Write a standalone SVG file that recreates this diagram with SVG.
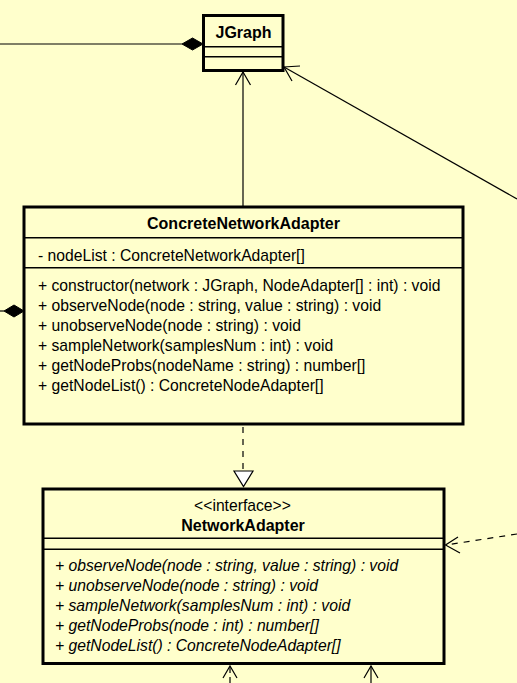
<svg xmlns="http://www.w3.org/2000/svg" width="517" height="683" viewBox="0 0 517 683">
<style>
.bg{fill:#FFFFCC}
.box{fill:none;stroke:#000;stroke-width:3}
.div{stroke:#000;stroke-width:1.5}
.ln{fill:none;stroke:#000;stroke-width:1.2}
.dash{fill:none;stroke:#000;stroke-width:1.2;stroke-dasharray:6,6}
.head{fill:none;stroke:#000;stroke-width:1.2}
.dia{fill:#000;stroke:#000;stroke-width:1}
.tri{fill:#fff;stroke:#000;stroke-width:1.2}
text{font-family:"Liberation Sans",Arial,sans-serif;font-size:15.7px;fill:#000}
.title{font-weight:bold;font-size:16px;text-anchor:middle}
.st{text-anchor:middle}
.it{font-style:italic}
</style>
<rect class="bg" x="0" y="0" width="517" height="683"/>
<g id="connectors">
<!-- composition from left to JGraph -->
<line class="ln" x1="0" y1="44" x2="182" y2="44"/>
<polygon class="dia" points="182,44 192.5,38 203,44 192.5,50"/>
<!-- ConcreteNetworkAdapter to JGraph -->
<line class="ln" x1="243" y1="207" x2="243" y2="72"/>
<polyline class="head" points="235.5,85 243,72 250.5,85"/>
<!-- diagonal to JGraph -->
<line class="ln" x1="517" y1="199" x2="284" y2="67"/>
<polyline class="head" points="300,66 284,67 292,81"/>
<!-- composition from left to ConcreteNetworkAdapter -->
<line class="ln" x1="0" y1="311" x2="4" y2="311"/>
<polygon class="dia" points="4,311 14,305 24,311 14,317"/>
<!-- realization -->
<line class="dash" x1="243" y1="427" x2="243" y2="471"/>
<polygon class="tri" points="234,471 253,471 243.5,486.5"/>
<!-- dashed dependency from right -->
<line class="dash" x1="517" y1="534" x2="446" y2="545"/>
<polyline class="head" points="458,537 445.5,545 460,553"/>
<!-- bottom arrows -->
<line class="dash" x1="230" y1="683" x2="230" y2="667" style="stroke-dasharray:6,4"/>
<polyline class="head" points="223,678 230,666 237,678"/>
<line class="ln" x1="371" y1="683" x2="371" y2="666"/>
<polyline class="head" points="364,678 371,666 378,678"/>
</g>
<g id="JGraph">
<rect class="box" x="203.5" y="15.5" width="79.5" height="55"/>
<line class="div" x1="203.5" y1="46.7" x2="283" y2="46.7"/>
<line class="div" x1="203.5" y1="56.7" x2="283" y2="56.7"/>
<text class="title" x="243.5" y="38">JGraph</text>
</g>
<g id="ConcreteNetworkAdapter">
<rect class="box" x="24" y="207" width="439" height="217"/>
<line class="div" x1="24" y1="237.7" x2="463" y2="237.7"/>
<line class="div" x1="24" y1="267.7" x2="463" y2="267.7"/>
<text class="title" x="243.5" y="229">ConcreteNetworkAdapter</text>
<text x="38" y="261">- nodeList : ConcreteNetworkAdapter[]</text>
<text x="38" y="291">+ constructor(network : JGraph, NodeAdapter[] : int) : void</text>
<text x="38" y="311">+ observeNode(node : string, value : string) : void</text>
<text x="38" y="331">+ unobserveNode(node : string) : void</text>
<text x="38" y="351">+ sampleNetwork(samplesNum : int) : void</text>
<text x="38" y="371">+ getNodeProbs(nodeName : string) : number[]</text>
<text x="38" y="391">+ getNodeList() : ConcreteNodeAdapter[]</text>
</g>
<g id="NetworkAdapter">
<rect class="box" x="43" y="489" width="401" height="174.5"/>
<line class="div" x1="43" y1="538.3" x2="444" y2="538.3"/>
<line class="div" x1="43" y1="549.3" x2="444" y2="549.3"/>
<text class="st" x="242.5" y="511">&lt;&lt;interface&gt;&gt;</text>
<text class="title" x="243" y="531">NetworkAdapter</text>
<text class="it" x="55" y="571">+ observeNode(node : string, value : string) : void</text>
<text class="it" x="55" y="591">+ unobserveNode(node : string) : void</text>
<text class="it" x="55" y="611">+ sampleNetwork(samplesNum : int) : void</text>
<text class="it" x="55" y="631">+ getNodeProbs(node : int) : number[]</text>
<text class="it" x="55" y="651">+ getNodeList() : ConcreteNodeAdapter[]</text>
</g>
</svg>
